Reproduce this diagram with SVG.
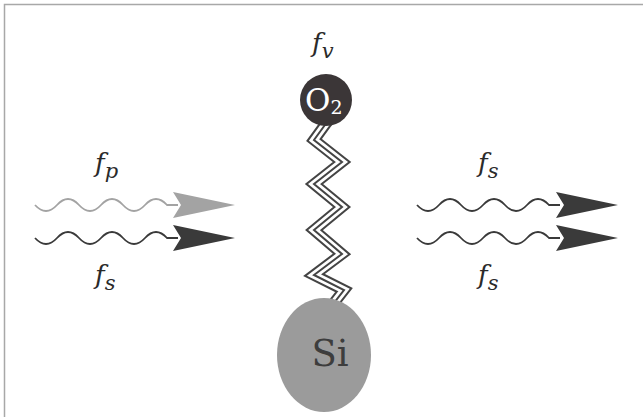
<svg xmlns="http://www.w3.org/2000/svg" width="643" height="417" viewBox="0 0 643 417">
<style>
.serif{font-family:"DejaVu Serif","Liberation Serif",serif}
.lbl{font-style:italic;font-size:26px;fill:#2a2a2a}
.sub{font-size:21px}
.wave{fill:none;stroke-width:1.8}
.dark{stroke:#3a3a3a}
.light{stroke:#a3a3a3}
.headD{fill:#3a3a3a}
.headL{fill:#a3a3a3}
</style>
<defs>
<path id="w" d="M0,0 q11,12 22,0 t22,0 t22,0 t22,0 t22,0 t22,0 l11,0"/>
<polygon id="ah" points="0,-13 62,0 0,13 8,0"/>
</defs>
<rect x="0" y="0" width="643" height="417" fill="#ffffff"/>
<rect x="4.5" y="4.5" width="700" height="500" fill="none" stroke="#a8a8a8" stroke-width="1.5"/>

<g id="connectors">
<g id="spring">
<path d="M330,118 L314,140 L342,162 L314,184 L342,207 L314,230 L342,254 L314,275 L344,290 L330,308" fill="none" stroke="#444" stroke-width="11.5" stroke-linejoin="miter" stroke-miterlimit="10"/>
<path d="M330,118 L314,140 L342,162 L314,184 L342,207 L314,230 L342,254 L314,275 L344,290 L330,308" fill="none" stroke="#fff" stroke-width="7.5" stroke-linejoin="miter" stroke-miterlimit="10"/>
<path d="M330,118 L314,140 L342,162 L314,184 L342,207 L314,230 L342,254 L314,275 L344,290 L330,308" fill="none" stroke="#444" stroke-width="2" stroke-linejoin="miter" stroke-miterlimit="10"/>
</g>
<g id="wave-left-top">
<use href="#w" x="35" y="205" class="wave light"/>
<use href="#ah" transform="translate(173,205)" class="headL"/>
</g>
<g id="wave-left-bottom">
<use href="#w" x="35" y="238" class="wave dark"/>
<use href="#ah" transform="translate(173,238)" class="headD"/>
</g>
<g id="wave-right-top">
<use href="#w" x="417" y="205" class="wave dark"/>
<use href="#ah" transform="translate(556,205)" class="headD"/>
</g>
<g id="wave-right-bottom">
<use href="#w" x="417" y="238" class="wave dark"/>
<use href="#ah" transform="translate(556,238)" class="headD"/>
</g>
</g>

<g id="node-O2">
<circle cx="326" cy="100" r="26" fill="#3b3637"/>
<text class="serif" x="305" y="111" font-size="31" fill="#ffffff">O<tspan font-size="19" dy="3">2</tspan></text>
</g>
<g id="node-Si">
<ellipse cx="324" cy="355" rx="47" ry="57" fill="#9b9b9b"/>
<text class="serif" x="330" y="366" text-anchor="middle" font-size="37" fill="#3d3d3d">Si</text>
</g>

<g id="labels" class="serif">
<text class="lbl" x="312" y="52">f<tspan class="sub" dy="6">v</tspan></text>
<text class="lbl" x="95" y="172">f<tspan class="sub" dy="6">p</tspan></text>
<text class="lbl" x="95" y="284">f<tspan class="sub" dy="6">s</tspan></text>
<text class="lbl" x="478" y="172">f<tspan class="sub" dy="6">s</tspan></text>
<text class="lbl" x="478" y="284">f<tspan class="sub" dy="6">s</tspan></text>
</g>
</svg>
